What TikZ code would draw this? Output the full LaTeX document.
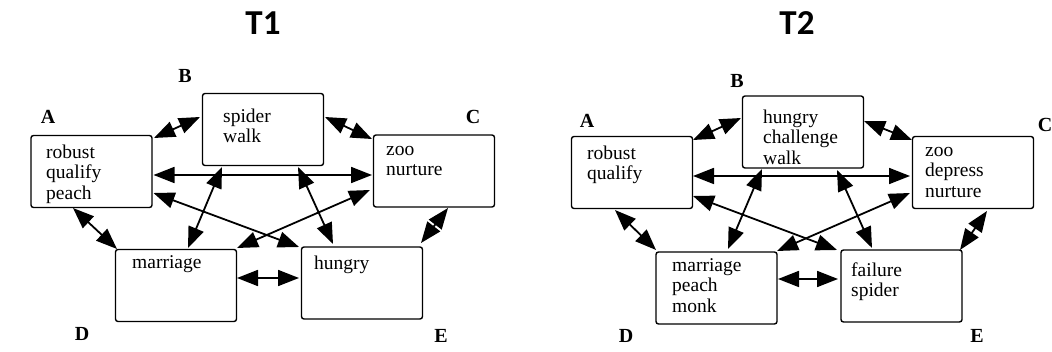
\documentclass[tikz,border=0pt]{standalone}
\usepackage{fontspec}
\setmainfont{Liberation Serif}
\newfontfamily\titlefont{Carlito}
\usetikzlibrary{arrows.meta,calc}
\tikzset{
  box/.style={draw, line width=1.4pt, rounded corners=2.5pt, minimum width=121pt, minimum height=72pt, inner sep=0pt},
  txt/.style={anchor=north west, inner sep=0pt, align=left, font=\fontsize{19.5}{20.5}\selectfont},
  corner/.style={inner sep=0pt, font=\fontsize{20}{20}\selectfont\bfseries},
  ttl/.style={inner sep=0pt, font=\titlefont\fontsize{35}{36}\selectfont\bfseries},
  dbl/.style={<->, line width=1.8pt, >={Triangle[length=21pt,width=16pt]}}
}
\begin{document}
\begin{tikzpicture}[x=1pt,y=-1pt]
\useasboundingbox (0,0) rectangle (1052,352);
% titles
\node[ttl] (t1) at (263,23) {T1};
\node[ttl] (t2) at (797,23) {T2};
% ---------- T1 ----------
\node[box] (A1) at (91.5,171.5) {};
\node[box] (B1) at (263,129.5) {};
\node[box] (C1) at (434,171) {};
\node[box] (D1) at (176,285.5) {};
\node[box] (E1) at (362,283) {};
\node[txt] (a1t) at (46,143.5) {\strut robust\\qualify\\peach};
\node[txt] (b1t) at (223,107.5) {\strut spider\\walk};
\node[txt] (c1t) at (386,140.5) {\strut zoo\\nurture};
\node[txt] (d1t) at (132,253.5) {\strut marriage};
\node[txt] (e1t) at (314,254.5) {\strut hungry};
\node[corner] (la1) at (48,117) {A};
\node[corner] (lb1) at (185,76) {B};
\node[corner] (lc1) at (473,117) {C};
\node[corner] (ld1) at (82,334) {D};
\node[corner] (le1) at (441,336) {E};
\draw[dbl] ($(A1)+(62.5,-33.5)$) -- ($(B1)+(-63,-12.5)$);
\draw[dbl] ($(B1)+(62,-12.5)$) -- ($(C1)+(-62,-32)$);
\draw[dbl] ($(A1)+(62,3.5)$) -- ($(C1)+(-62,4)$);
\draw[dbl] ($(B1)+(-41,37.5)$) -- ($(D1)+(12,-37.5)$);
\draw[dbl] ($(B1)+(35,37.5)$) -- ($(E1)+(-29,-39)$);
\draw[dbl] ($(A1)+(62,21.5)$) -- ($(E1)+(-63,-36)$);
\draw[dbl] ($(C1)+(-64,19)$) -- ($(D1)+(61,-37.5)$);
\draw[dbl] ($(A1)+(-18.5,36.5)$) -- ($(D1)+(-59,-36.5)$);
\draw[dbl] ($(D1)+(61,-7.5)$) -- ($(E1)+(-63,-5)$);
\draw[dbl] ($(C1)+(14,37)$) -- ($(E1)+(59,-40)$);
% ---------- T2 ----------
\node[box] (A2) at (632,172.5) {};
\node[box] (B2) at (803,132) {};
\node[box] (C2) at (973,172.5) {};
\node[box] (D2) at (716.5,288) {};
\node[box] (E2) at (901.5,286) {};
\node[txt] (a2t) at (587,144.5) {\strut robust\\qualify};
\node[txt] (b2t) at (763,108.5) {\strut hungry\\challenge\\walk};
\node[txt] (c2t) at (925,141.5) {\strut zoo\\depress\\nurture};
\node[txt] (d2t) at (672,256.5) {\strut marriage\\peach\\monk};
\node[txt] (e2t) at (851,261.5) {\strut failure\\spider};
\node[corner] (la2) at (587,121) {A};
\node[corner] (lb2) at (737,81) {B};
\node[corner] (lc2) at (1045,125) {C};
\node[corner] (ld2) at (626,336) {D};
\node[corner] (le2) at (977,336) {E};
\draw[dbl] ($(A2)+(61,-32.5)$) -- ($(B2)+(-62,-14)$);
\draw[dbl] ($(B2)+(61,-11)$) -- ($(C2)+(-61,-32.5)$);
\draw[dbl] ($(A2)+(61,3.5)$) -- ($(C2)+(-63,3.5)$);
\draw[dbl] ($(B2)+(-41,37)$) -- ($(D2)+(11.5,-39)$);
\draw[dbl] ($(B2)+(34,38)$) -- ($(E2)+(-29.5,-38)$);
\draw[dbl] ($(A2)+(61,23.5)$) -- ($(E2)+(-64.5,-36)$);
\draw[dbl] ($(C2)+(-63,20.5)$) -- ($(D2)+(60.5,-37)$);
\draw[dbl] ($(A2)+(-17,37.5)$) -- ($(D2)+(-60.5,-38)$);
\draw[dbl] ($(D2)+(61.5,-9)$) -- ($(E2)+(-63.5,-7)$);
\draw[dbl] ($(C2)+(14,38.5)$) -- ($(E2)+(58.5,-36)$);
\end{tikzpicture}
\end{document}
